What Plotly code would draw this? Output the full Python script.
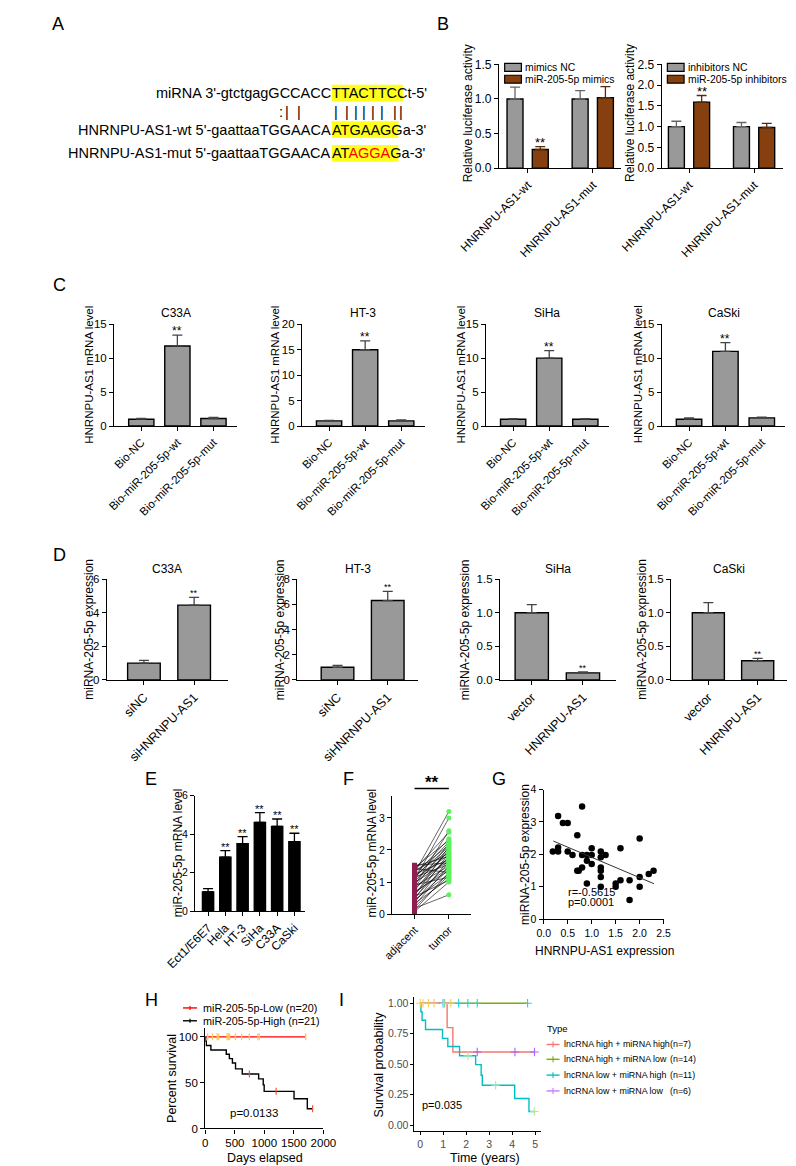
import plotly.graph_objects as go

W, H = 796, 1166
FONT = "Arial, Liberation Sans, sans-serif"
GRAY = "#999999"
BROWN = "#86400F"

# ---------------- data ----------------
# A: sequence pairing (prefix, highlighted seed, suffix)
a_mirna = ["miRNA 3'-gtctgagGCCACC", "TTACTTCC", "t-5'"]
a_wt = ["HNRNPU-AS1-wt 5'-gaattaaTGGAACA", "ATGAAGG", "a-3'"]
a_mut = ["HNRNPU-AS1-mut 5'-gaattaaTGGAACA", "ATAGGAG", "a-3'"]
a_mut_red = "AGGA"
a_marks = [":", "|", "|", "|", "|", "|", "|", "|", "|", "|", "|"]

# B: luciferase assays
b_groups = ["HNRNPU-AS1-wt", "HNRNPU-AS1-mut"]
b1_names = ["mimics NC", "miR-205-5p mimics"]
b1_nc = [1.00, 1.00]
b1_nc_err = [0.17, 0.12]
b1_mim = [0.27, 1.02]
b1_mim_err = [0.04, 0.16]
b1_sig = ["**", ""]
b2_names = ["inhibitors NC", "miR-205-5p inhibitors"]
b2_nc = [1.00, 1.00]
b2_nc_err = [0.13, 0.10]
b2_inh = [1.59, 0.98]
b2_inh_err = [0.16, 0.10]
b2_sig = ["**", ""]

# C: RNA pull-down
c_cats = ["Bio-NC", "Bio-miR-205-5p-wt", "Bio-miR-205-5p-mut"]
c_cells = ["C33A", "HT-3", "SiHa", "CaSki"]
c_c33a = [1.0, 11.8, 1.1]
c_c33a_err = [0.12, 1.6, 0.18]
c_ht3 = [1.0, 15.0, 1.0]
c_ht3_err = [0.12, 1.75, 0.18]
c_siha = [1.0, 10.0, 1.0]
c_siha_err = [0.1, 1.1, 0.1]
c_caski = [1.0, 11.0, 1.2]
c_caski_err = [0.18, 1.3, 0.12]
c_ymax = [15, 20, 15, 15]
c_sig = ["", "**", ""]

# D: miR-205-5p after knockdown / overexpression
d_cats_si = ["siNC", "siHNRNPU-AS1"]
d_cats_ov = ["vector", "HNRNPU-AS1"]
d_c33a = [1.0, 4.45]
d_c33a_err = [0.16, 0.47]
d_ht3 = [1.0, 6.3]
d_ht3_err = [0.15, 0.73]
d_siha = [1.0, 0.105]
d_siha_err = [0.12, 0.015]
d_caski = [1.0, 0.285]
d_caski_err = [0.15, 0.035]
d_ymax = [6, 8, 1.5, 1.5]
d_sig = ["", "**"]

# E: cell lines
e_cats = ["Ect1/E6E7", "Hela", "HT-3", "SiHa", "C33A", "CaSki"]
e_vals = [1.0, 2.8, 3.5, 4.6, 4.4, 3.6]
e_err = [0.17, 0.34, 0.37, 0.51, 0.38, 0.44]
e_sig = ["", "**", "**", "**", "**", "**"]

# F: paired tissues
f_cats = ["adjacent", "tumor"]
f_adjacent = [0.08, 0.12, 0.18, 0.22, 0.27, 0.33, 0.36, 0.41, 0.44, 0.47,
              0.52, 0.55, 0.58, 0.61, 0.66, 0.70, 0.74, 0.79, 0.83, 0.86,
              0.88, 0.91, 0.95, 0.99, 1.02, 1.06, 1.10, 1.13, 1.15, 1.17,
              1.21, 1.24, 1.28, 1.31, 1.35, 1.38, 1.42, 1.45, 1.49, 1.52]
f_tumor = [1.00, 1.30, 0.60, 1.20, 1.50, 1.10, 1.70, 1.40, 1.25, 1.90,
           1.60, 1.05, 2.10, 1.80, 1.45, 1.35, 2.00, 1.75, 2.20, 1.50,
           2.60, 1.15, 1.95, 1.65, 2.05, 3.00, 1.85, 2.25, 1.55, 2.10,
           2.35, 1.70, 3.20, 2.15, 1.90, 2.55, 1.30, 2.30, 1.80, 1.60]

# G: correlation
g_x = [0.19, 0.30, 0.30, 0.30, 0.40, 0.50, 0.50, 0.60, 0.80, 0.70, 0.70, 0.73, 0.80,
       0.80, 0.90, 0.90, 0.90, 1.00, 1.00, 1.00, 1.19, 1.19, 1.19, 1.19, 1.19, 1.19,
       1.29, 1.50, 1.50, 1.60, 1.60, 1.79, 1.79, 2.00, 2.00, 2.00, 2.19, 2.29]
g_y = [2.09, 2.21, 2.09, 3.18, 2.97, 2.97, 2.09, 1.98, 3.48, 2.59, 1.49, 1.49, 1.98,
       1.59, 1.98, 1.80, 1.10, 2.19, 1.98, 1.70, 2.09, 1.91, 1.59, 1.49, 1.30, 1.00,
       1.98, 1.10, 1.00, 2.19, 1.20, 1.20, 0.59, 2.49, 1.30, 1.00, 1.39, 1.49]
g_fit_x = [0.2, 2.3]
g_fit_y = [2.41, 1.09]

# H: Kaplan-Meier (days, percent)
h_low_t = [0, 1700]
h_low_s = [100, 100]
h_low_cens = [40, 120, 200, 225, 370, 390, 410, 510, 615, 745, 890, 915, 1700]
h_high_t = [0, 5, 16, 94, 355, 407, 459, 512, 626, 903, 981, 997, 1503, 1728, 1817]
h_high_s = [100, 95.2, 90.5, 85.7, 81.0, 76.2, 71.4, 65.0, 59.5, 54.1, 47.6, 40.5, 32.4, 21.6, 21.6]
h_high_cens_t = [747, 1200, 1817]
h_high_cens_s = [59.5, 40.5, 21.6]

# I: Kaplan-Meier by type (years, probability)
i_names = ["lncRNA high + miRNA high", "lncRNA high + miRNA low",
           "lncRNA low + miRNA high", "lncRNA low + miRNA low"]
i_n = ["(n=7)", "(n=14)", "(n=11)", "(n=6)"]
i_colors = ["#F8766D", "#7CAE00", "#00BFC4", "#C77CFF"]
i_hh_t = [0, 1.17, 1.42, 4.97]
i_hh_s = [1.0, 0.80, 0.60, 0.60]
i_hh_cens = [2.48, 4.12, 4.97]
i_hl_t = [0, 4.67]
i_hl_s = [1.0, 1.0]
i_hl_cens = [0.99, 1.06, 1.67, 2.07, 2.48, 4.67]
i_lh_t = [0, 0.03, 0.08, 0.23, 0.97, 1.20, 1.71, 2.41, 2.65, 2.70, 4.11, 4.73, 4.96]
i_lh_s = [1.0, 0.93, 0.86, 0.785, 0.712, 0.645, 0.57, 0.497, 0.41, 0.328, 0.22, 0.113, 0.113]
i_lh_cens_t = [2.07, 3.28, 4.96]
i_lh_cens_s = [0.57, 0.328, 0.113]
i_ll_t = [0, 1.33]
i_ll_s = [1.0, 1.0]
i_ll_cens = [0.0, 0.12, 0.36, 0.60, 1.03, 1.33]

# ---------------- helpers ----------------
fig = go.Figure()
L = dict(width=W, height=H, margin=dict(l=0, r=0, t=0, b=0),
         paper_bgcolor="white", plot_bgcolor="white", showlegend=False,
         barmode="overlay", font=dict(family=FONT, color="black", size=11))
ann = []
shp = []

# Arial / Liberation Sans advance widths (per 1000 em) for the seed letters
GLYPH_W = {"A": 667, "C": 722, "G": 778, "T": 611}


def X(px):
    return px / W


def Y(py):
    return 1 - py / H


def axkey(c, n):
    return f"{c}axis" if n == 1 else f"{c}axis{n}"


def ref(c, n):
    return c if n == 1 else f"{c}{n}"


def text(x, y, s, size, xa="center", ya="middle", angle=0, color="black", **kw):
    d = dict(x=X(x), y=Y(y), xref="paper", yref="paper", text=s, showarrow=False,
             font=dict(size=size, color=color, family=FONT), xanchor=xa, yanchor=ya,
             textangle=angle, borderpad=0, borderwidth=0)
    d.update(kw)
    ann.append(d)


def axes(n, x0, x1, ytop, ybot, xr, yr, xtickvals=None, xticktext=None, xangle=-45,
         xfont=12, yfont=12, ydtick=None, yfmt=None, ytickvals=None, yticktext=None,
         xdtick=None, lw=1.3, tcolor="black", ticklen=4):
    xa = dict(domain=[X(x0), X(x1)], anchor=ref("y", n), range=xr, showline=True,
              linecolor="black", linewidth=lw, ticks="outside", ticklen=ticklen, tickwidth=lw,
              tickcolor="black", showgrid=False, zeroline=False, tickangle=xangle,
              tickfont=dict(size=xfont, color=tcolor, family=FONT), fixedrange=True)
    if xtickvals is not None:
        xa.update(tickmode="array", tickvals=xtickvals, ticktext=xticktext)
    if xdtick is not None:
        xa.update(tickmode="linear", tick0=0, dtick=xdtick)
    ya = dict(domain=[Y(ybot), Y(ytop)], anchor=ref("x", n), range=yr, showline=True,
              linecolor="black", linewidth=lw, ticks="outside", ticklen=ticklen, tickwidth=lw,
              tickcolor="black", showgrid=False, zeroline=False,
              tickfont=dict(size=yfont, color=tcolor, family=FONT), fixedrange=True)
    if ydtick is not None:
        ya.update(tickmode="linear", tick0=0, dtick=ydtick)
    if ytickvals is not None:
        ya.update(tickmode="array", tickvals=ytickvals, ticktext=yticktext)
    if yfmt:
        ya.update(tickformat=yfmt)
    L[axkey("x", n)] = xa
    L[axkey("y", n)] = ya


def bars(n, xs, vals, errs, color, width, offset=None, edge="black", errcolor="#333333",
         sig=None, sigsize=12, sigshift=-5):
    fig.add_trace(go.Bar(
        x=xs, y=vals, width=width, offset=offset,
        marker=dict(color=color, line=dict(color=edge, width=1.4)),
        error_y=dict(type="data", array=errs, arrayminus=[0] * len(errs), symmetric=False,
                     color=errcolor, thickness=1.3, width=5),
        xaxis=ref("x", n), yaxis=ref("y", n), hoverinfo="skip"))
    if sig:
        for i, s in enumerate(sig):
            if s:
                cx = xs[i] + (offset + width / 2 if offset is not None else 0)
                ann.append(dict(x=cx, y=vals[i] + errs[i], xref=ref("x", n), yref=ref("y", n),
                                text=s, showarrow=False, yanchor="bottom", yshift=sigshift,
                                font=dict(size=sigsize, family=FONT, color="black")))


# ---------------- panel letters ----------------
for lab, x, y in [("A", 8, 9), ("B", 422, 9), ("C", 9, 273), ("D", 9, 547),
                  ("E", 108, 773), ("F", 320, 773), ("G", 482, 773),
                  ("H", 108, 997), ("I", 313, 997)]:
    text(x, y, lab, 18)

# ---------------- A ----------------
SEQ = 14.5
SEED_X = 302
for (pre, hl, suf), y in [(a_mirna, 79), (a_wt, 116), (a_mut, 140)]:
    w_hl = sum(GLYPH_W[ch] for ch in hl) / 1000 * SEQ
    shp.append(dict(type="rect", xref="paper", yref="paper", layer="below",
                    x0=X(SEED_X), x1=X(SEED_X + w_hl), y0=Y(y + 8.5), y1=Y(y - 8.5),
                    fillcolor="#FFFF1A", line=dict(width=0)))
    shown = hl.replace(a_mut_red, f"<span style='color:#FF0000'>{a_mut_red}</span>") \
        if hl == a_mut[1] else hl
    text(SEED_X - 0.5, y, pre, SEQ, xa="right")
    text(SEED_X + 0.5, y, shown + suf, SEQ, xa="left")
mark_x = [247, 254, 267, 306.5, 318.5, 328, 337, 346.5, 356, 369.5, 377]
for m, mx in zip(a_marks, mark_x):
    text(mx, 98, m, SEQ)

# ---------------- B ----------------
BW = 0.245
axes(1, 482, 613, 50, 155, [-0.44, 1.43], [0, 1.5], [0, 1], b_groups, ydtick=0.5, yfmt=".1f",
     yfont=12)
bars(1, [0, 1], b1_nc, b1_nc_err, GRAY, BW, offset=-0.318, errcolor="#666666")
bars(1, [0, 1], b1_mim, b1_mim_err, BROWN, BW, offset=0.07, errcolor="#5a2a08",
     sig=b1_sig, sigsize=13)
axes(2, 657, 787, 50, 155, [-0.42, 1.437], [0, 2.5], [0, 1], b_groups, ydtick=0.5, yfmt=".1f",
     yfont=12)
bars(2, [0, 1], b2_nc, b2_nc_err, GRAY, BW, offset=-0.318, errcolor="#666666")
bars(2, [0, 1], b2_inh, b2_inh_err, BROWN, BW, offset=0.07, errcolor="#5a2a08",
     sig=b2_sig, sigsize=13)
for bx, names in [(488, b1_names), (663, b2_names)]:
    for (yc, col, nm) in [(53, GRAY, names[0]), (65, BROWN, names[1])]:
        shp.append(dict(type="rect", xref="paper", yref="paper", x0=X(bx), x1=X(bx + 18),
                        y0=Y(yc + 4), y1=Y(yc - 4), fillcolor=col,
                        line=dict(color="black", width=1.2)))
        text(bx + 22, yc, nm, 10.4, xa="left")
text(448, 99, "Relative luciferase activity", 12, angle=-90)
text(623, 99, "Relative luciferase activity", 12, angle=-90)

# ---------------- C ----------------
c_sets = [(c_c33a, c_c33a_err), (c_ht3, c_ht3_err), (c_siha, c_siha_err), (c_caski, c_caski_err)]
c_dom = [(68, 200), (270, 402), (468, 600), (657, 790)]
c_ytx = [41, 241, 441, 631]
for k in range(4):
    n = 3 + k
    x0, x1 = c_dom[k]
    axes(n, x0, x1, 313, 416, [-0.75, 2.65], [0, c_ymax[k]], [0, 1, 2], c_cats,
         xfont=11.5, yfont=11.5, ydtick=5)
    vals, errs = c_sets[k]
    bars(n, [0, 1, 2], vals, errs, GRAY, 0.7, errcolor="#444444", sig=c_sig, sigsize=12)
    text((x0 + x1) / 2, 302, c_cells[k], 12)
    text(c_ytx[k], 364, "HNRNPU-AS1 mRNA level", 11.5, angle=-90)

# ---------------- D ----------------
d_sets = [(d_c33a, d_c33a_err, d_cats_si), (d_ht3, d_ht3_err, d_cats_si),
          (d_siha, d_siha_err, d_cats_ov), (d_caski, d_caski_err, d_cats_ov)]
d_dom = [(60, 190, [-0.74, 1.667]), (265, 395, [-0.8, 1.607]),
         (483, 608, [-0.62, 1.65]), (667, 792, [-0.755, 1.6])]
d_ytx = [40, 246, 445, 635]
for k in range(4):
    n = 7 + k
    x0, x1, xr = d_dom[k]
    vals, errs, cats = d_sets[k]
    small = d_ymax[k] < 2
    axes(n, x0, x1, 571, 673, xr, [0, d_ymax[k]], [0, 1], cats, xfont=12.5, yfont=11.5,
         ydtick=0.5 if small else 2, yfmt=".1f" if small else None)
    bars(n, [0, 1], vals, errs, GRAY, 0.65, errcolor="#444444", sig=d_sig, sigsize=9,
         sigshift=-3)
    text((x0 + x1) / 2, 561, c_cells[k], 12)
    text(d_ytx[k], 622, "miRNA-205-5p expression", 12, angle=-90)

# ---------------- E ----------------
axes(11, 155, 273, 790, 907, [-0.75, 5.6], [0, 6], list(range(6)), e_cats,
     xfont=12, yfont=10.5, ydtick=2)
bars(11, list(range(6)), e_vals, e_err, "black", 0.65, errcolor="black", sig=e_sig,
     sigsize=11, sigshift=-4)
text(136, 848, "miR-205-5p mRNA level", 12, angle=-90)

# ---------------- F ----------------
axes(12, 367, 452, 790, 910, [-0.65, 1.65], [0, 3.7], [0, 1], f_cats, xfont=11,
     yfont=10.5, ydtick=1)
lx, ly = [], []
for a, t in zip(f_adjacent, f_tumor):
    lx += [0, 1, None]
    ly += [a, t, None]
fig.add_trace(go.Scatter(x=lx, y=ly, mode="lines", line=dict(color="black", width=0.6),
                         xaxis="x12", yaxis="y12", hoverinfo="skip"))
fig.add_trace(go.Scatter(x=[0] * len(f_adjacent), y=f_adjacent, mode="markers",
                         marker=dict(symbol="square", size=5, color="#8E1E4E"),
                         xaxis="x12", yaxis="y12", hoverinfo="skip"))
fig.add_trace(go.Scatter(x=[1] * len(f_tumor), y=f_tumor, mode="markers",
                         marker=dict(symbol="circle", size=5, color="#5CF25C"),
                         xaxis="x12", yaxis="y12", hoverinfo="skip"))
shp.append(dict(type="line", xref="x12", yref="y12 domain", x0=0, x1=1, y0=1.06, y1=1.06,
                line=dict(color="black", width=1.5)))
ann.append(dict(x=0.5, y=1.06, xref="x12", yref="y12 domain", text="<b>**</b>",
                showarrow=False, yanchor="bottom", yshift=-6,
                font=dict(size=17, family=FONT, color="black")))
text(345, 848, "miR-205-5p mRNA level", 12, angle=-90)

# ---------------- G ----------------
axes(13, 530, 659, 784, 915, [0, 2.5], [0, 4], xangle=0, xfont=10.5, yfont=10.5, ydtick=1,
     xdtick=0.5)
L["xaxis13"]["tickformat"] = ".1f"
fig.add_trace(go.Scatter(x=g_x, y=g_y, mode="markers",
                         marker=dict(size=6.5, color="black"),
                         xaxis="x13", yaxis="y13", hoverinfo="skip", cliponaxis=False))
fig.add_trace(go.Scatter(x=g_fit_x, y=g_fit_y, mode="lines",
                         line=dict(color="#333333", width=1),
                         xaxis="x13", yaxis="y13", hoverinfo="skip"))
for s, yv in [("r=-0.5615", 0.83), ("p=0.0001", 0.52)]:
    ann.append(dict(x=0.46, y=yv, xref="x13", yref="y13", text=s, showarrow=False,
                    xanchor="left", font=dict(size=11, family=FONT, color="black")))
text(510, 850, "miRNA-205-5p expression", 12, angle=-90)
text(595, 947, "HNRNPU-AS1 expression", 12)

# ---------------- H ----------------
axes(14, 166, 293, 1025, 1127, [0, 2000], [0, 110], xangle=0, xfont=11.5, yfont=11.5,
     xdtick=500, ytickvals=[0, 50, 100], yticktext=["0", "50", "100"])
fig.add_trace(go.Scatter(x=h_low_t, y=h_low_s, mode="lines",
                         line=dict(color="#FF0000", width=1.4, shape="hv"),
                         xaxis="x14", yaxis="y14", hoverinfo="skip"))
fig.add_trace(go.Scatter(x=h_low_cens, y=[100] * len(h_low_cens), mode="markers",
                         marker=dict(symbol="line-ns-open", size=5,
                                     line=dict(color="#FF0000", width=1.3)),
                         xaxis="x14", yaxis="y14", hoverinfo="skip"))
fig.add_trace(go.Scatter(x=h_high_t, y=h_high_s, mode="lines",
                         line=dict(color="black", width=1.4, shape="hv"),
                         xaxis="x14", yaxis="y14", hoverinfo="skip"))
fig.add_trace(go.Scatter(x=h_high_cens_t, y=h_high_cens_s, mode="markers",
                         marker=dict(symbol="line-ns-open", size=5,
                                     line=dict(color="black", width=1.2)),
                         xaxis="x14", yaxis="y14", hoverinfo="skip"))
ann.append(dict(x=820, y=17, xref="x14", yref="y14", text="p=0.0133", showarrow=False,
                font=dict(size=11.5, family=FONT, color="black")))
for yc, col, nm in [(1005, "#FF0000", "miR-205-5p-Low (n=20)"),
                    (1018, "black", "miR-205-5p-High (n=21)")]:
    shp.append(dict(type="line", xref="paper", yref="paper", x0=X(142), x1=X(157),
                    y0=Y(yc), y1=Y(yc), line=dict(color=col, width=1.4)))
    shp.append(dict(type="line", xref="paper", yref="paper", x0=X(149.5), x1=X(149.5),
                    y0=Y(yc - 2), y1=Y(yc + 2), line=dict(color=col, width=1.2)))
    text(163, yc, nm, 10.8, xa="left")
text(130, 1076, "Percent survival", 12.5, angle=-90)
text(230, 1157, "Days elapsed", 12.5)

# ---------------- I ----------------
axes(15, 391, 527, 994, 1130, [-0.25, 5.25], [-0.05, 1.05], xangle=0, xfont=10.5,
     yfont=10.5, xdtick=1, ytickvals=[0, 0.25, 0.5, 0.75, 1.0],
     yticktext=["0.00", "0.25", "0.50", "0.75", "1.00"], lw=1, tcolor="#4D4D4D", ticklen=3)
i_curves = [(i_hh_t, i_hh_s, i_hh_cens, [0.60] * len(i_hh_cens)),
            (i_hl_t, i_hl_s, i_hl_cens, [1.0] * len(i_hl_cens)),
            (i_lh_t, i_lh_s, i_lh_cens_t, i_lh_cens_s),
            (i_ll_t, i_ll_s, i_ll_cens, [1.0] * len(i_ll_cens))]
for (t, s, ct, cs), col in zip(i_curves, i_colors):
    fig.add_trace(go.Scatter(x=t, y=s, mode="lines",
                             line=dict(color=col, width=1.4, shape="hv"),
                             xaxis="x15", yaxis="y15", hoverinfo="skip"))
    fig.add_trace(go.Scatter(x=ct, y=cs, mode="markers",
                             marker=dict(symbol="cross-thin-open", size=6,
                                         line=dict(color=col, width=1.1)),
                             xaxis="x15", yaxis="y15", hoverinfo="skip", cliponaxis=False))
ann.append(dict(x=-0.02, y=0.17, xref="x15", yref="y15", text="p=0.035", showarrow=False,
                xanchor="left", font=dict(size=11, family=FONT, color="black")))
text(533, 1026, "Type", 9.5, xa="left")
for k, yc in enumerate([1042, 1057, 1073, 1089]):
    col = i_colors[k]
    shp.append(dict(type="line", xref="paper", yref="paper", x0=X(533), x1=X(547),
                    y0=Y(yc), y1=Y(yc), line=dict(color=col, width=1.4)))
    shp.append(dict(type="line", xref="paper", yref="paper", x0=X(540), x1=X(540),
                    y0=Y(yc - 3), y1=Y(yc + 3), line=dict(color=col, width=1.1)))
    text(552, yc, i_names[k], 8.9, xa="left")
    text(666, yc, i_n[k], 8.9, xa="left")
text(353, 1062, "Survival probability", 12.5, angle=-90)
text(467, 1157, "Time (years)", 12.5)

L["annotations"] = ann
L["shapes"] = shp
fig.update_layout(**L)
fig.write_html("out.html")
